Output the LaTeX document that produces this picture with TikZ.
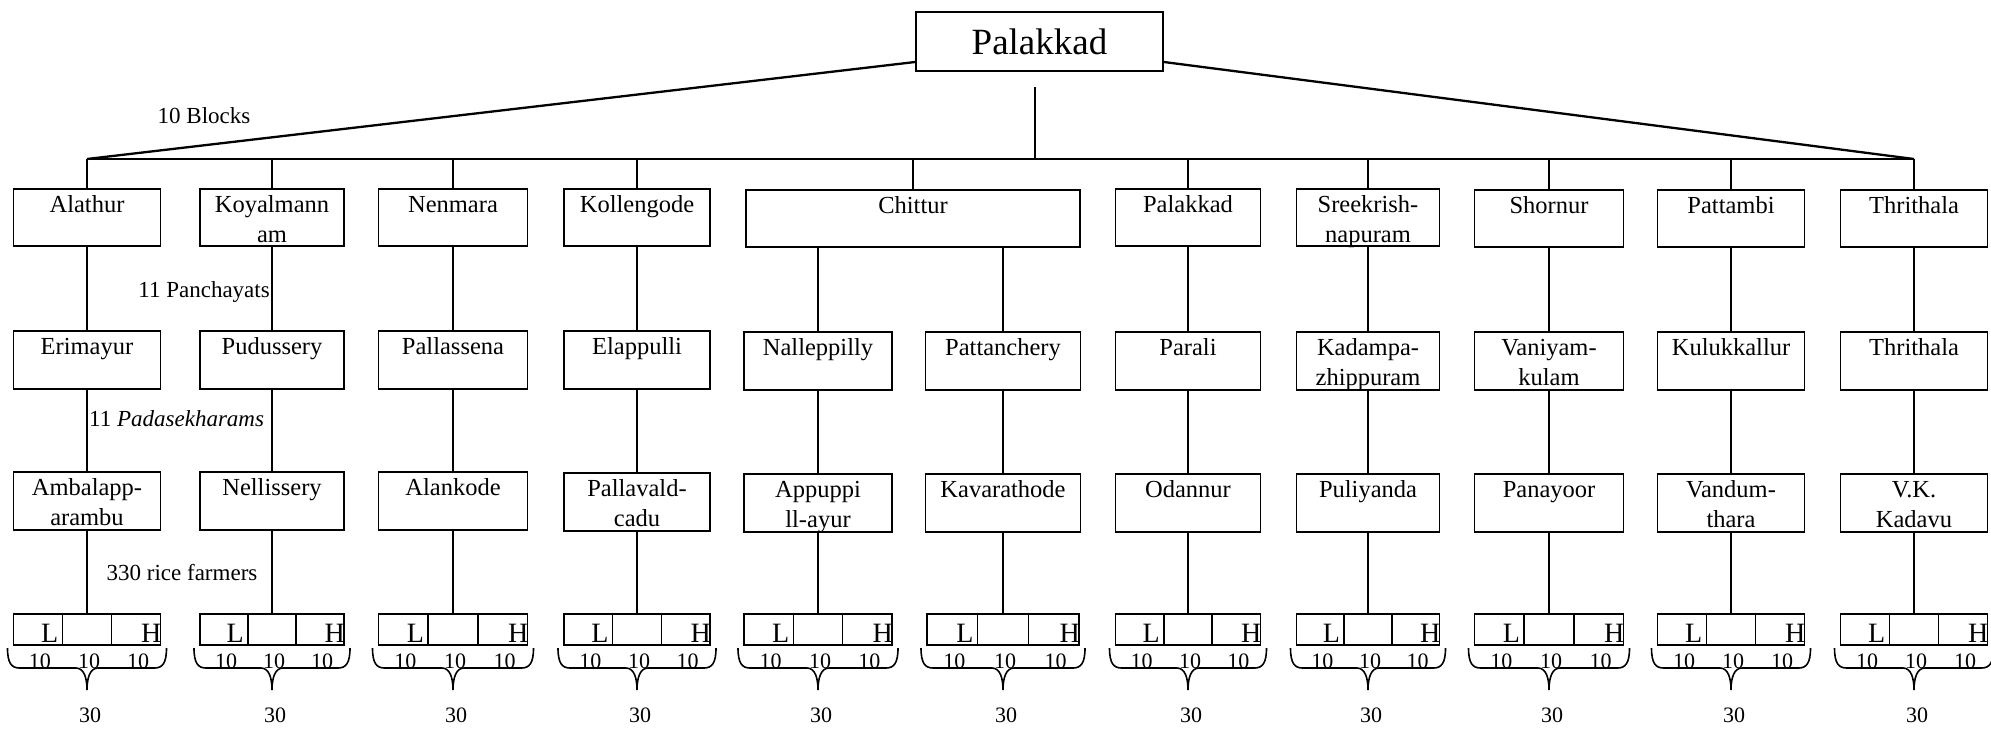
\documentclass[tikz,border=0pt]{standalone}
\usepackage{fontspec}
\setmainfont{Liberation Serif}
\usetikzlibrary{calc}
\tikzset{
 boxst/.style={draw, line width=1.8pt, inner sep=0pt, outer sep=0pt, font=\fontsize{24.5}{30}\selectfont},
 ln/.style={line width=1.5pt},
 diag/.style={line width=2.3pt},
 lhst/.style={draw, line width=1.8pt, inner sep=0pt, outer sep=0pt, minimum height=31pt},
 ann/.style={inner sep=0pt, font=\fontsize{23}{28}\selectfont},
 num/.style={inner sep=0pt, font=\fontsize{22}{26}\selectfont},
 lhtxt/.style={inner sep=0pt, font=\fontsize{28}{30}\selectfont},
 brc/.style={line width=1.6pt},
}
\newcommand\lbox[6]{%
  \node[boxst, anchor=north] (#1) at (#2,#3) {\parbox[t][#5pt][t]{#4pt}{\centering\rule{0pt}{23pt}#6}};}
\newcommand\lhbox[3]{%
 \node[lhst, minimum width=#3pt, anchor=north] (#1) at (#2,614) {};
 \coordinate (#1-d1) at ($(#1.south west)!1/3!(#1.south east)$);
 \coordinate (#1-d2) at ($(#1.south west)!2/3!(#1.south east)$);
 \draw[line width=1.4pt] (#1-d1) -- (#1-d1 |- #1.north);
 \draw[line width=1.4pt] (#1-d2) -- (#1-d2 |- #1.north);
 \node[lhtxt, anchor=base east] (#1-l) at ([xshift=-4pt, yshift=3pt]#1-d1) {L};
 \node[lhtxt, anchor=base east] (#1-h) at ([xshift=1pt, yshift=3pt]#1.south east) {H};
 \coordinate (#1-bl) at ([xshift=-6pt,yshift=-3pt]#1.south west);
 \coordinate (#1-br) at ([xshift=6pt,yshift=-3pt]#1.south east);
 \coordinate (#1-bm) at ($(#1-bl)!.5!(#1-br)$);
 \draw[brc] (#1-bl) .. controls +(0,15) and +(-8,0) .. ([xshift=12pt,yshift=-20pt]#1-bl)
   -- ([xshift=-11pt,yshift=-20pt]#1-bm) .. controls +(8,0) and +(0,-12) .. ([yshift=-42pt]#1-bm)
   .. controls +(0,-12) and +(-8,0) .. ([xshift=11pt,yshift=-20pt]#1-bm)
   -- ([xshift=-12pt,yshift=-20pt]#1-br) .. controls +(8,0) and +(0,15) .. (#1-br);
 \node[num, anchor=base] (#1-n1) at ([xshift=2pt,yshift=-23pt]$(#1.south west)!1/6!(#1.south east)$) {10};
 \node[num, anchor=base] (#1-n2) at ([xshift=2pt,yshift=-23pt]$(#1.south west)!3/6!(#1.south east)$) {10};
 \node[num, anchor=base] (#1-n3) at ([xshift=2pt,yshift=-23pt]$(#1.south west)!5/6!(#1.south east)$) {10};
 \node[num] (#1-s) at ([xshift=3pt,yshift=-70pt]#1.south) {30};
}
\begin{document}
\begin{tikzpicture}[x=1pt,y=-1pt]
\useasboundingbox (0,0) rectangle (1991,729);
% top
\node[draw, line width=1.8pt, inner sep=0pt, minimum width=247pt, minimum height=59pt, font=\fontsize{37}{40}\selectfont] (top) at (1039.5,41.5) {Palakkad};
\coordinate (hl1) at (87,159);
\coordinate (hlR) at (1914,159);
\coordinate (hc) at (1035,159);
\coordinate (hctop) at (1035,87);
\draw[diag] ([yshift=-20.5pt]top.west) -- (hl1);
\draw[diag] ([yshift=-20.5pt]top.east) -- (hlR);
\draw[ln] (hl1) -- (hlR);
\draw[ln] (hctop) -- (hc);
% level 1
\lbox{b1}{87}{189}{147}{57}{Alathur}
\lbox{b2}{272}{189}{144}{57}{Koyalmann\\am}
\lbox{b3}{453}{189}{149}{57}{Nenmara}
\lbox{b4}{637}{189}{146}{57}{Kollengode}
\lbox{b5}{913}{190}{334}{57}{Chittur}
\lbox{b6}{1188}{189}{145}{57}{Palakkad}
\lbox{b7}{1368}{189}{143}{57}{Sreekrish-\\napuram}
\lbox{b8}{1549}{190}{149}{57}{Shornur}
\lbox{b9}{1731}{190}{147}{57}{Pattambi}
\lbox{b10}{1914}{190}{147}{57}{Thrithala}
% level 2
\lbox{p1}{87}{331}{147}{58}{Erimayur}
\lbox{p2}{272}{331}{144}{58}{Pudussery}
\lbox{p3}{453}{331}{149}{58}{Pallassena}
\lbox{p4}{637}{331}{146}{58}{Elappulli}
\lbox{p5}{818}{332}{148}{58}{Nalleppilly}
\lbox{p6}{1003}{332}{155}{58}{Pattanchery}
\lbox{p7}{1188}{332}{145}{58}{Parali}
\lbox{p8}{1368}{332}{143}{58}{Kadampa-\\zhippuram}
\lbox{p9}{1549}{332}{149}{58}{Vaniyam-\\kulam}
\lbox{p10}{1731}{332}{147}{58}{Kulukkallur}
\lbox{p11}{1914}{332}{147}{58}{Thrithala}
% level 3
\lbox{q1}{87}{472}{147}{58}{Ambalapp-\\arambu}
\lbox{q2}{272}{472}{144}{58}{Nellissery}
\lbox{q3}{453}{472}{149}{58}{Alankode}
\lbox{q4}{637}{473}{146}{58}{Pallavald-\\cadu}
\lbox{q5}{818}{474}{148}{58}{Appuppi\\ll-ayur}
\lbox{q6}{1003}{474}{155}{58}{Kavarathode}
\lbox{q7}{1188}{474}{145}{58}{Odannur}
\lbox{q8}{1368}{474}{143}{58}{Puliyanda}
\lbox{q9}{1549}{474}{149}{58}{Panayoor}
\lbox{q10}{1731}{474}{147}{58}{Vandum-\\thara}
\lbox{q11}{1914}{474}{147}{58}{V.K.\\Kadavu}
% level 4
\lhbox{lh1}{87}{147}
\lhbox{lh2}{272}{144}
\lhbox{lh3}{453}{149}
\lhbox{lh4}{637}{146}
\lhbox{lh5}{818}{148}
\lhbox{lh6}{1003}{152}
\lhbox{lh7}{1188}{145}
\lhbox{lh8}{1368}{143}
\lhbox{lh9}{1549}{149}
\lhbox{lh10}{1731}{147}
\lhbox{lh11}{1914}{147}
% connectors level 0-1
\foreach \b in {b1,b2,b3,b4,b5,b6,b7,b8,b9,b10} \draw[ln] (\b.north) -- (\b.north |- hl1);
% level 1-2
\foreach \p/\b in {p1/b1,p2/b2,p3/b3,p4/b4,p5/b5,p6/b5,p7/b6,p8/b7,p9/b8,p10/b9,p11/b10}
  \draw[ln] (\p.north) -- (\p.north |- \b.south);
% level 2-3
\foreach \q/\p in {q1/p1,q2/p2,q3/p3,q4/p4,q5/p5,q6/p6,q7/p7,q8/p8,q9/p9,q10/p10,q11/p11}
  \draw[ln] (\q.north) -- (\q.north |- \p.south);
% level 3-4
\foreach \l/\q in {lh1/q1,lh2/q2,lh3/q3,lh4/q4,lh5/q5,lh6/q6,lh7/q7,lh8/q8,lh9/q9,lh10/q10,lh11/q11}
  \draw[ln] (\l.north) -- (\l.north |- \q.south);
% annotations
\node[ann] (blk) at (204,116) {10 Blocks};
\node[ann, anchor=east] (pan) at (270,292) {11 Panchayats};
\node[ann, anchor=west] (pad) at (89,419) {11 \textit{Padasekharams}};
\node[ann] (far) at (182,573) {330 rice farmers};
\end{tikzpicture}
\end{document}
